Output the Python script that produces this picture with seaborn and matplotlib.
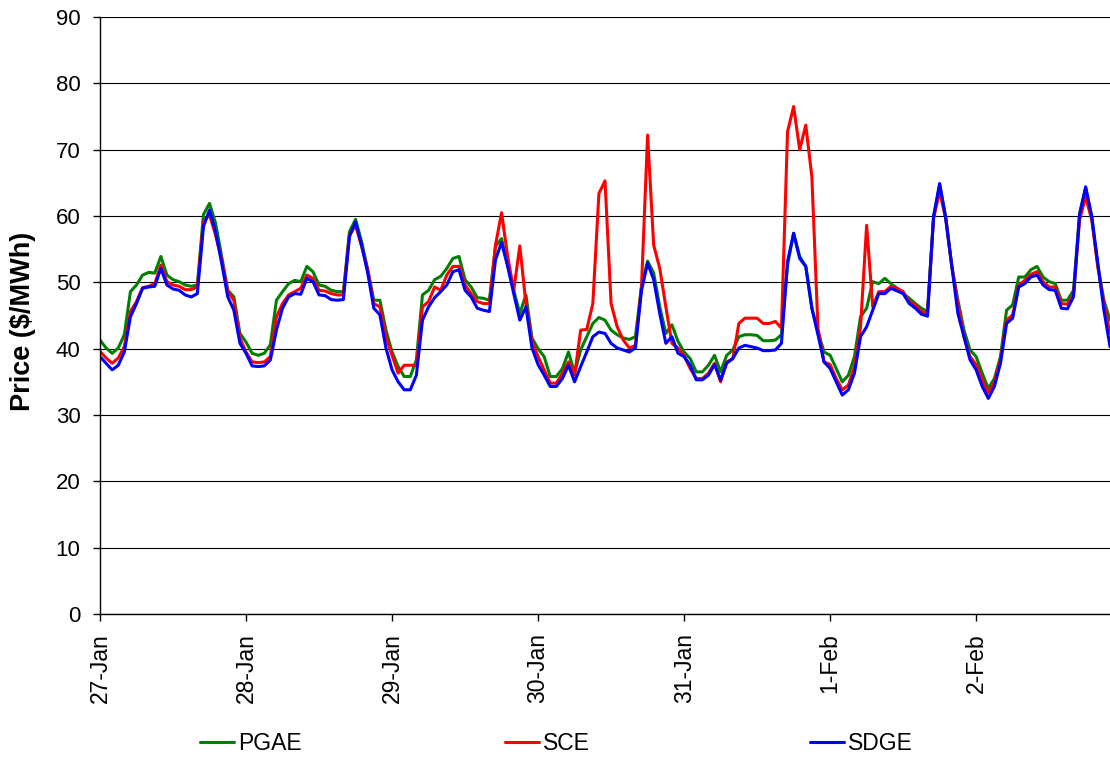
import numpy as np
import pandas as pd
import matplotlib
matplotlib.use("Agg")
import matplotlib.pyplot as plt
import seaborn as sns

# ─── DATA (hourly prices, $/MWh) ────────────────────────────────────────────
DATES = ["27-Jan", "28-Jan", "29-Jan", "30-Jan", "31-Jan", "1-Feb", "2-Feb"]

PGAE = [
    # 27-Jan
    41.3, 40.1, 39.3, 40.1, 42.1, 48.6, 49.6, 51.1, 51.5, 51.4, 53.9, 51.1,
    50.4, 50.1, 49.6, 49.4, 49.6, 60.2, 61.9, 58.9, 53.9, 48.8, 47.8, 42.3,
    # 28-Jan
    41.0, 39.3, 39.0, 39.3, 40.6, 47.3, 48.6, 49.8, 50.3, 50.1, 52.4, 51.6,
    49.6, 49.4, 48.8, 48.6, 48.6, 57.6, 59.5, 56.1, 51.9, 47.3, 47.3, 42.8,
    # 29-Jan
    39.5, 37.3, 35.8, 35.8, 38.3, 48.1, 48.8, 50.4, 50.9, 52.1, 53.6, 53.9,
    50.4, 49.3, 47.7, 47.6, 47.3, 55.4, 56.6, 52.6, 48.8, 45.3, 48.1, 41.6,
    # 30-Jan
    40.0, 38.8, 35.8, 35.8, 37.0, 39.5, 36.3, 39.8, 41.8, 43.8, 44.7, 44.3,
    42.8, 42.1, 41.6, 41.4, 41.8, 49.4, 53.2, 51.4, 46.3, 42.3, 43.6, 41.1,
    # 31-Jan
    39.5, 38.5, 36.5, 36.5, 37.5, 39.0, 36.5, 39.0, 39.8, 41.8, 42.1, 42.1,
    42.0, 41.2, 41.2, 41.3, 42.1, 52.6, 57.4, 53.9, 52.4, 46.1, 42.6, 39.5,
    # 1-Feb
    39.0, 37.0, 35.0, 36.0, 38.8, 44.8, 46.1, 50.1, 49.8, 50.6, 49.8, 49.1,
    48.3, 47.6, 46.8, 46.1, 45.6, 59.9, 64.7, 59.9, 52.4, 47.3, 42.8, 39.8,
    # 2-Feb
    38.8, 36.3, 34.0, 35.5, 38.8, 45.8, 46.6, 50.8, 50.8, 51.9, 52.4, 50.8,
    50.1, 49.8, 47.3, 47.3, 48.8, 60.4, 64.2, 59.9, 52.4, 47.3, 44.3,
]

SCE = [
    # 27-Jan
    39.6, 38.6, 37.8, 38.6, 40.3, 45.6, 47.1, 49.2, 49.4, 49.8, 52.6, 50.1,
    49.6, 49.4, 48.9, 48.9, 49.3, 59.1, 60.2, 57.1, 53.4, 48.6, 47.3, 41.6,
    # 28-Jan
    39.5, 38.0, 37.9, 38.0, 38.8, 44.8, 46.8, 48.1, 48.6, 49.1, 51.1, 50.6,
    48.8, 48.7, 48.3, 48.1, 48.1, 57.1, 58.6, 55.4, 51.9, 46.8, 46.3, 41.8,
    # 29-Jan
    39.0, 36.3, 37.5, 37.5, 37.5, 46.3, 47.1, 49.3, 48.8, 51.1, 52.4, 52.4,
    49.6, 48.3, 47.1, 46.8, 46.8, 55.6, 60.5, 53.9, 48.8, 55.5, 46.8, 41.1,
    # 30-Jan
    38.8, 36.8, 34.8, 34.8, 36.3, 38.0, 36.0, 42.8, 42.9, 46.8, 63.4, 65.3,
    46.8, 43.3, 41.3, 40.1, 40.5, 49.4, 72.2, 55.6, 52.1, 46.3, 40.8, 40.1,
    # 31-Jan
    38.9, 37.0, 35.5, 35.5, 36.3, 37.8, 35.0, 38.0, 38.5, 43.8, 44.6, 44.6,
    44.6, 43.8, 43.8, 44.1, 43.1, 72.7, 76.5, 70.0, 73.7, 65.9, 43.1, 38.0,
    # 1-Feb
    37.6, 35.5, 33.8, 34.5, 37.3, 43.3, 58.6, 46.3, 48.6, 48.6, 49.4, 49.1,
    48.6, 47.1, 46.6, 45.6, 45.3, 59.6, 63.7, 59.6, 52.4, 46.8, 41.8, 38.8,
    # 2-Feb
    37.6, 35.3, 33.3, 35.0, 38.3, 44.3, 45.1, 49.6, 50.3, 51.2, 51.6, 50.1,
    49.3, 49.3, 46.8, 46.7, 48.1, 59.4, 62.9, 59.4, 52.4, 46.8, 42.3,
]

SDGE = [
    # 27-Jan
    38.8, 37.8, 36.8, 37.5, 39.5, 44.8, 46.8, 49.1, 49.3, 49.4, 52.1, 49.6,
    49.0, 48.8, 48.1, 47.8, 48.3, 58.4, 60.9, 57.6, 52.9, 47.8, 45.8, 40.8,
    # 28-Jan
    39.3, 37.4, 37.3, 37.4, 38.3, 42.8, 46.1, 47.8, 48.3, 48.2, 50.6, 50.1,
    48.1, 48.0, 47.4, 47.3, 47.4, 56.9, 59.1, 55.6, 51.4, 46.1, 45.1, 40.1,
    # 29-Jan
    36.8, 35.0, 33.8, 33.8, 36.0, 44.3, 46.3, 47.7, 48.6, 49.6, 51.6, 51.9,
    48.8, 47.8, 46.1, 45.8, 45.6, 53.4, 56.0, 52.4, 48.3, 44.3, 46.3, 40.1,
    # 30-Jan
    37.6, 36.0, 34.3, 34.3, 35.5, 37.5, 35.0, 37.3, 39.5, 41.8, 42.5, 42.3,
    40.8, 40.1, 39.8, 39.5, 40.1, 48.8, 52.9, 50.4, 45.3, 40.8, 41.8, 39.3,
    # 31-Jan
    38.8, 37.5, 35.3, 35.3, 36.0, 37.6, 35.3, 37.8, 38.5, 40.1, 40.5, 40.3,
    40.1, 39.7, 39.7, 39.8, 40.8, 53.1, 57.4, 53.6, 52.4, 46.1, 42.1, 38.0,
    # 1-Feb
    37.0, 35.0, 33.0, 33.8, 36.3, 41.8, 43.3, 45.8, 48.3, 48.3, 49.1, 48.7,
    48.3, 46.8, 46.1, 45.2, 44.9, 59.9, 64.9, 59.6, 52.4, 45.3, 41.8, 38.3,
    # 2-Feb
    36.8, 34.3, 32.5, 34.3, 37.8, 43.8, 44.6, 49.3, 49.8, 50.8, 51.1, 49.6,
    48.9, 48.8, 46.1, 46.0, 47.8, 60.2, 64.4, 59.9, 52.9, 45.8, 40.3,
]

ZONES = ["PGAE", "SCE", "SDGE"]
COLORS = {"PGAE": "#008000", "SCE": "#FF0000", "SDGE": "#0000FF"}
LEGEND_X = [200, 505, 810]   # left edge of each legend entry, px
# ─────────────────────────────────────────────────────────────────────────────

frames = []
for name, vals in zip(ZONES, [PGAE, SCE, SDGE]):
    frames.append(pd.DataFrame({"hour": np.arange(len(vals)), "price": vals, "zone": name}))
df = pd.concat(frames, ignore_index=True)

sns.set_style("white")
plt.rcParams["font.family"] = ["Liberation Sans", "DejaVu Sans"]
plt.rcParams["text.color"] = "black"
plt.rcParams["axes.labelcolor"] = "black"

W, H = 1110, 759
fig = plt.figure(figsize=(W / 100, H / 100), dpi=100)
ax = fig.add_axes([100 / W, 1 - 614 / H, 1010 / W, 597 / H])

sns.lineplot(data=df, x="hour", y="price", hue="zone", hue_order=ZONES,
             palette=COLORS, linewidth=2.2, ax=ax, legend=False)

ax.set_xlim(0, 166)
ax.set_ylim(0, 90)
ax.set_yticks(range(0, 91, 10))
ax.set_xticks(range(0, 24 * len(DATES), 24))
ax.set_xticklabels(DATES, rotation=90)
ax.yaxis.grid(True, color="black", linewidth=0.8)
ax.xaxis.grid(False)

for side in ["top", "right"]:
    ax.spines[side].set_visible(False)
for side in ["left", "bottom"]:
    ax.spines[side].set_color("black")
    ax.spines[side].set_linewidth(1.0)

ax.tick_params(axis="both", direction="out", length=5, width=1, color="black",
               labelsize=16, pad=9, labelcolor="black")
ax.tick_params(axis="x", bottom=True, labelsize=16.5)
ax.tick_params(axis="y", left=True)

ax.set_xlabel("")
ax.set_ylabel("Price ($/MWh)", fontsize=19.5, fontweight="bold", va="center", color="black")
ax.yaxis.set_label_coords(-77 / 1010, 0.49)

# one legend per entry so the entries sit at the same spots as the original
for line, name, lx in zip(ax.get_lines()[:3], ZONES, LEGEND_X):
    fig.legend([line], [name], loc="center left", bbox_to_anchor=(lx / W, 1 - 744 / H),
               frameon=False, fontsize=16.5, handlelength=1.5, handletextpad=0.15,
               borderaxespad=0, borderpad=0, labelcolor="black")

fig.savefig("out.png", dpi=100)
plt.close(fig)
